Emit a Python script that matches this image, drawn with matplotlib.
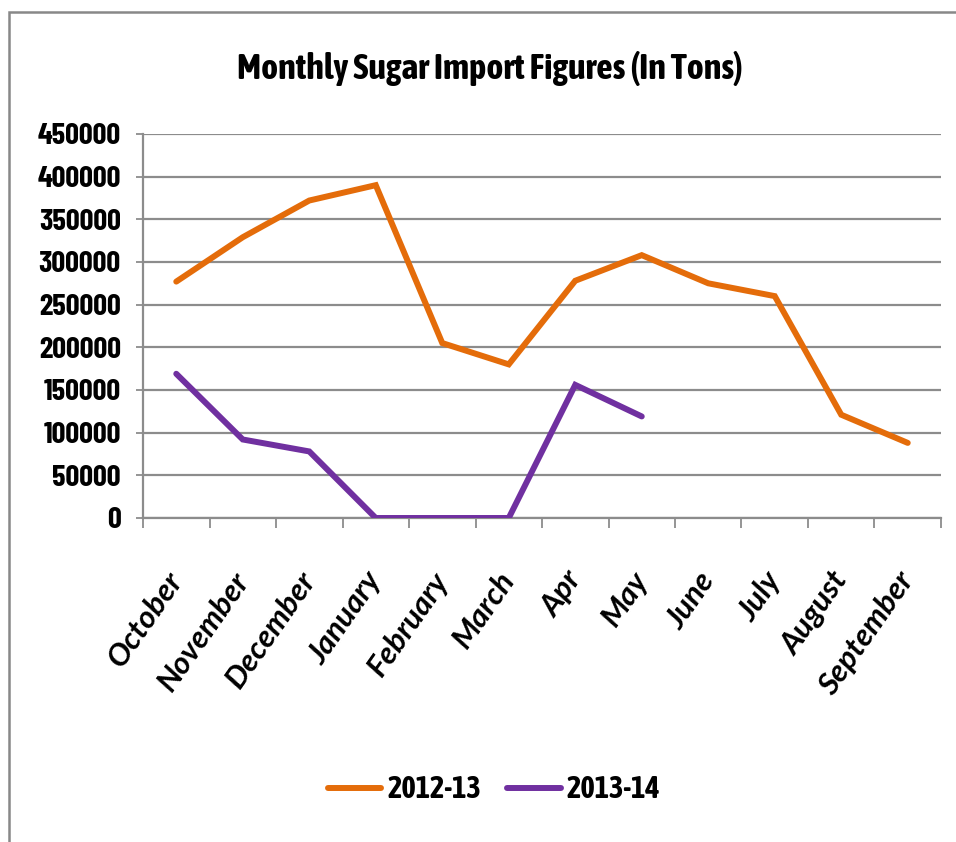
import matplotlib
matplotlib.use('Agg')
import matplotlib.pyplot as plt
from matplotlib.patches import Rectangle
from matplotlib.ticker import FixedLocator

# Data
months = ['October', 'November', 'December', 'January', 'February', 'March',
          'Apr', 'May', 'June', 'July', 'August', 'September']
imports_2012_13 = [277000, 329000, 372000, 390000, 205000, 180000,
                   278000, 308000, 275000, 260000, 121000, 88000]
imports_2013_14 = [169000, 92000, 78000, 0, 0, 0, 156000, 119000]
series_names = ['2012-13', '2013-14']
yticks = list(range(0, 450001, 50000))

NARROW = ['Asap Condensed', 'Liberation Sans Narrow', 'DejaVu Sans']
NARROWER = ['Barlow Condensed', 'Asap Condensed', 'Liberation Sans Narrow', 'DejaVu Sans']
ITALIC = ['Lato', 'DejaVu Sans']
orange = '#E46C0A'
purple = '#7030A0'
grey = '#8C8C8C'

fig = plt.figure(figsize=(9.56, 8.42), dpi=100)
ax = fig.add_axes([0.1496, 0.3848, 0.8347, 0.4561])

x = list(range(len(months)))
ax.plot(x, imports_2012_13, color=orange, lw=4.3, solid_capstyle='round',
        solid_joinstyle='miter', label=series_names[0], zorder=3)
ax.plot(x[:len(imports_2013_14)], imports_2013_14, color=purple, lw=4.3,
        solid_capstyle='round', solid_joinstyle='miter', label=series_names[1], zorder=3)

ax.set_xlim(-0.5, len(months) - 0.5)
ax.set_ylim(0, 450000)
ax.set_yticks(yticks)
ax.set_yticklabels([str(v) for v in yticks], family=NARROWER, fontweight='bold', fontsize=22)
ax.yaxis.grid(True, color=grey, lw=1.6)
ax.set_axisbelow(True)

ax.set_xticks(x)
ax.set_xticklabels(months, family=ITALIC, fontweight='bold', style='italic',
                   fontsize=22.5, rotation=55, ha='right', va='center',
                   rotation_mode='anchor')
ax.xaxis.set_minor_locator(FixedLocator([i - 0.5 for i in range(len(months) + 1)]))
ax.tick_params(axis='x', which='major', length=0, pad=41)
ax.tick_params(axis='x', which='minor', length=7, width=1.3, color=grey, direction='out')
ax.tick_params(axis='y', length=5, width=1.3, color=grey, pad=11)

for side in ['top', 'right']:
    ax.spines[side].set_visible(False)
for side in ['left', 'bottom']:
    ax.spines[side].set_color(grey)
    ax.spines[side].set_linewidth(1.6)

fig.text(0.512, 0.919, 'Monthly Sugar Import Figures (In Tons)', ha='center', va='center',
         family=NARROW, fontweight='bold', fontsize=26)

fig.legend(loc='center', bbox_to_anchor=(0.517, 0.062), ncol=2, frameon=False,
           prop={'family': NARROW, 'weight': 'bold', 'size': 22},
           handlelength=1.75, handletextpad=0.2, columnspacing=0.85)

# outer chart border (only left and top edges fall inside the picture)
fig.patches.append(Rectangle((9 / 956, -0.2), 1.2, 1.2 - 12 / 842,
                             transform=fig.transFigure, fill=False,
                             edgecolor='#888888', lw=1.8, clip_on=False))

fig.savefig('out.png', dpi=100)
